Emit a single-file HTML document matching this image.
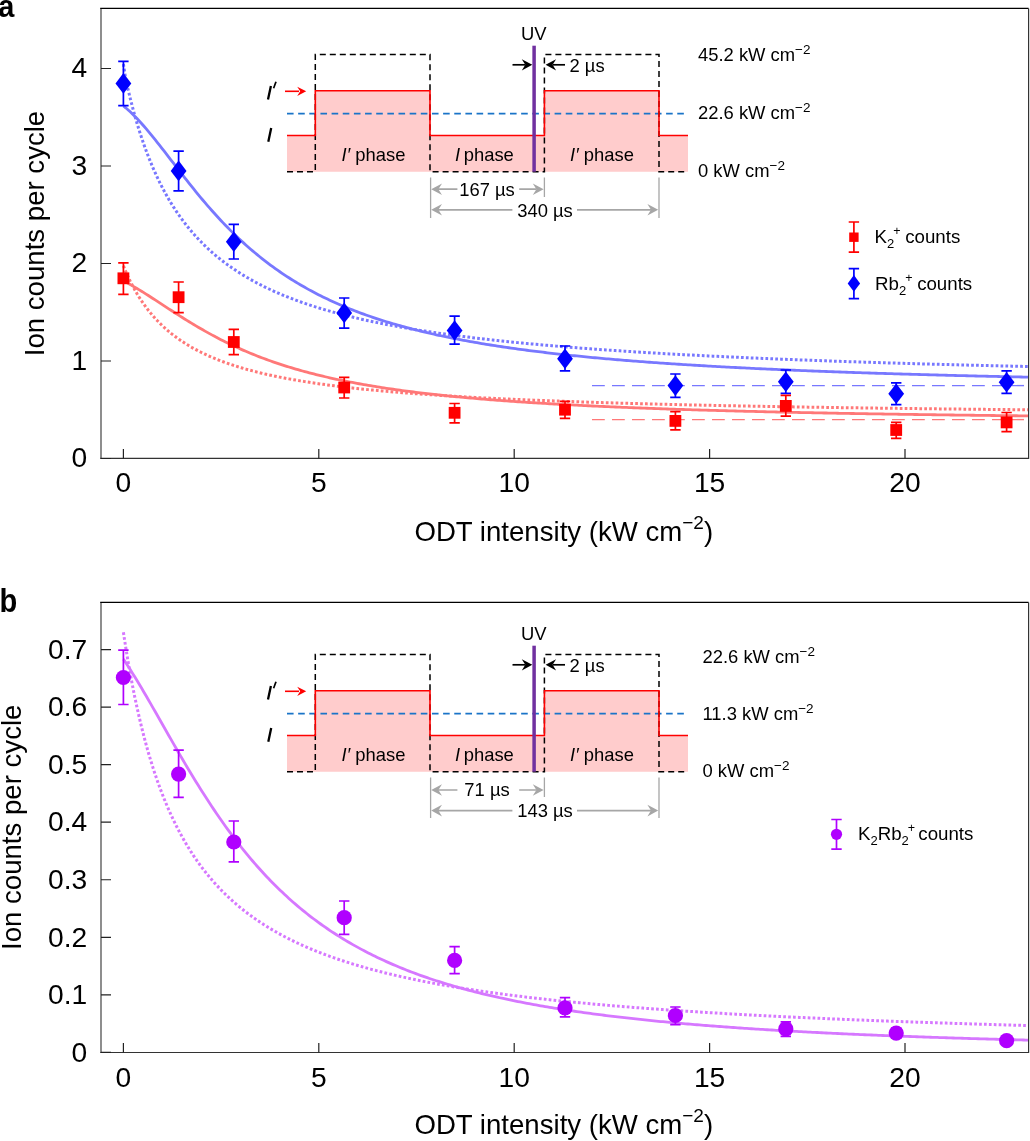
<!DOCTYPE html>
<html><head><meta charset="utf-8"><style>
html,body{margin:0;padding:0;background:#fff;overflow:hidden;}
svg{display:block;will-change:transform;}
text{font-family:"Liberation Sans",sans-serif;fill:#000;}
</style></head><body>
<svg width="1030" height="1141" viewBox="0 0 1030 1141">
<rect width="1030" height="1141" fill="#fff"/>
<text transform="translate(-1.7,17.1) scale(0.95,1)" font-size="30.5" font-weight="bold" font-family="Liberation Sans, sans-serif">a</text>
<text transform="translate(-0.4,611.5) scale(0.88,1)" font-size="33" font-weight="bold" font-family="Liberation Sans, sans-serif">b</text>
<path d="M101,8.45V458.4" stroke="#7a7a7a" stroke-width="1.7"/>
<path d="M100.2,8.399999999999999H1028.6" stroke="#000" stroke-width="1.2" fill="none"/>
<path d="M1028.6,8.45V458.4H100.2" stroke="#333" stroke-width="1.2" fill="none"/>
<path d="M101,458.50H111M101,361.00H111M101,263.50H111M101,166.00H111M101,68.50H111M123.40,449V458.5M318.80,449V458.5M514.20,449V458.5M709.60,449V458.5M905.00,449V458.5" stroke="#222" stroke-width="1.2"/>
<text x="87.3" y="467.20" text-anchor="end" font-size="28.2" font-family="Liberation Sans, sans-serif">0</text>
<text x="87.3" y="369.70" text-anchor="end" font-size="28.2" font-family="Liberation Sans, sans-serif">1</text>
<text x="87.3" y="272.20" text-anchor="end" font-size="28.2" font-family="Liberation Sans, sans-serif">2</text>
<text x="87.3" y="174.70" text-anchor="end" font-size="28.2" font-family="Liberation Sans, sans-serif">3</text>
<text x="87.3" y="77.20" text-anchor="end" font-size="28.2" font-family="Liberation Sans, sans-serif">4</text>
<text x="123.40" y="491.8" text-anchor="middle" font-size="28.2" font-family="Liberation Sans, sans-serif">0</text>
<text x="318.80" y="491.8" text-anchor="middle" font-size="28.2" font-family="Liberation Sans, sans-serif">5</text>
<text x="514.20" y="491.8" text-anchor="middle" font-size="28.2" font-family="Liberation Sans, sans-serif">10</text>
<text x="709.60" y="491.8" text-anchor="middle" font-size="28.2" font-family="Liberation Sans, sans-serif">15</text>
<text x="905.00" y="491.8" text-anchor="middle" font-size="28.2" font-family="Liberation Sans, sans-serif">20</text>
<text transform="translate(43.6,233.5) rotate(-90)" text-anchor="middle" font-size="27.6" font-family="Liberation Sans, sans-serif">Ion counts per cycle</text>
<text x="563.8" y="541.3" text-anchor="middle" font-size="27.6" font-family="Liberation Sans, sans-serif">ODT intensity (kW cm<tspan dy="-12.5" font-size="19">−2</tspan><tspan dy="12.5">)</tspan></text>
<path d="M592,385.6H1024" stroke="#7878ff" stroke-width="1.4" stroke-dasharray="12.8 7.2"/>
<path d="M592,419.6H1024" stroke="#ff7878" stroke-width="1.4" stroke-dasharray="12.8 7.2"/>
<path d="M123.40,64.00 L125.67,78.77 L127.93,88.81 L130.20,98.23 L132.47,107.06 L134.74,115.38 L137.00,123.21 L139.27,130.61 L141.54,137.61 L143.80,144.23 L146.07,150.52 L148.34,156.48 L150.61,162.16 L152.87,167.57 L155.14,172.72 L157.41,177.63 L159.67,182.33 L161.94,186.82 L164.21,191.12 L166.48,195.24 L168.74,199.19 L171.01,202.99 L173.28,206.63 L175.54,210.13 L177.81,213.50 L180.08,216.75 L182.35,219.87 L184.61,222.89 L186.88,225.80 L189.15,228.60 L191.42,231.32 L193.68,233.94 L195.95,236.47 L198.22,238.92 L200.48,241.30 L202.75,243.60 L205.02,245.83 L207.29,247.99 L209.55,250.09 L211.82,252.12 L214.09,254.10 L216.35,256.02 L218.62,257.88 L220.89,259.70 L223.16,261.46 L225.42,263.18 L227.69,264.85 L229.96,266.47 L232.22,268.05 L234.49,269.60 L236.76,271.10 L239.03,272.57 L241.29,274.00 L243.56,275.39 L245.83,276.75 L248.09,278.08 L250.36,279.38 L252.63,280.64 L254.90,281.88 L257.16,283.09 L259.43,284.27 L261.70,285.43 L263.96,286.56 L266.23,287.66 L268.50,288.75 L270.77,289.80 L273.03,290.84 L275.30,291.86 L277.57,292.85 L279.83,293.82 L282.10,294.78 L284.37,295.71 L286.64,296.63 L288.90,297.53 L291.17,298.41 L293.44,299.27 L295.70,300.12 L297.97,300.95 L300.24,301.77 L302.51,302.57 L304.77,303.35 L307.04,304.12 L309.31,304.88 L311.57,305.62 L313.84,306.36 L316.11,307.07 L318.38,307.78 L320.64,308.47 L322.91,309.15 L325.18,309.82 L327.45,310.48 L329.71,311.13 L331.98,311.77 L334.25,312.39 L336.51,313.01 L338.78,313.62 L341.05,314.21 L343.32,314.80 L345.58,315.38 L347.85,315.95 L350.12,316.51 L352.38,317.06 L354.65,317.60 L356.92,318.13 L359.19,318.66 L361.45,319.18 L363.72,319.69 L365.99,320.19 L368.25,320.69 L370.52,321.18 L372.79,321.66 L375.06,322.14 L377.32,322.60 L379.59,323.07 L381.86,323.52 L384.12,323.97 L386.39,324.41 L388.66,324.85 L390.93,325.28 L393.19,325.71 L395.46,326.12 L397.73,326.54 L399.99,326.95 L402.26,327.35 L404.53,327.75 L406.80,328.14 L409.06,328.52 L411.33,328.91 L413.60,329.28 L415.86,329.66 L418.13,330.02 L420.40,330.39 L422.67,330.75 L424.93,331.10 L427.20,331.45 L429.47,331.80 L431.73,332.14 L434.00,332.48 L436.27,332.81 L438.54,333.14 L440.80,333.46 L443.07,333.78 L445.34,334.10 L447.61,334.42 L449.87,334.73 L452.14,335.03 L454.41,335.34 L456.67,335.64 L458.94,335.93 L461.21,336.23 L463.48,336.52 L465.74,336.80 L468.01,337.09 L470.28,337.37 L472.54,337.64 L474.81,337.92 L477.08,338.19 L479.35,338.46 L481.61,338.72 L483.88,338.99 L486.15,339.25 L488.41,339.50 L490.68,339.76 L492.95,340.01 L495.22,340.26 L497.48,340.51 L499.75,340.75 L502.02,340.99 L504.28,341.23 L506.55,341.47 L508.82,341.70 L511.09,341.93 L513.35,342.16 L515.62,342.39 L517.89,342.62 L520.15,342.84 L522.42,343.06 L524.69,343.28 L526.96,343.50 L529.22,343.71 L531.49,343.92 L533.76,344.13 L536.02,344.34 L538.29,344.55 L540.56,344.75 L542.83,344.96 L545.09,345.16 L547.36,345.36 L549.63,345.55 L551.89,345.75 L554.16,345.94 L556.43,346.13 L558.70,346.32 L560.96,346.51 L563.23,346.70 L565.50,346.88 L567.76,347.07 L570.03,347.25 L572.30,347.43 L574.57,347.61 L576.83,347.78 L579.10,347.96 L581.37,348.13 L583.64,348.30 L585.90,348.47 L588.17,348.64 L590.44,348.81 L592.70,348.98 L594.97,349.14 L597.24,349.31 L599.51,349.47 L601.77,349.63 L604.04,349.79 L606.31,349.95 L608.57,350.10 L610.84,350.26 L613.11,350.41 L615.38,350.57 L617.64,350.72 L619.91,350.87 L622.18,351.02 L624.44,351.17 L626.71,351.32 L628.98,351.46 L631.25,351.61 L633.51,351.75 L635.78,351.89 L638.05,352.03 L640.31,352.17 L642.58,352.31 L644.85,352.45 L647.12,352.59 L649.38,352.72 L651.65,352.86 L653.92,352.99 L656.18,353.13 L658.45,353.26 L660.72,353.39 L662.99,353.52 L665.25,353.65 L667.52,353.78 L669.79,353.90 L672.05,354.03 L674.32,354.15 L676.59,354.28 L678.86,354.40 L681.12,354.53 L683.39,354.65 L685.66,354.77 L687.92,354.89 L690.19,355.01 L692.46,355.12 L694.73,355.24 L696.99,355.36 L699.26,355.47 L701.53,355.59 L703.79,355.70 L706.06,355.82 L708.33,355.93 L710.60,356.04 L712.86,356.15 L715.13,356.26 L717.40,356.37 L719.67,356.48 L721.93,356.59 L724.20,356.69 L726.47,356.80 L728.73,356.91 L731.00,357.01 L733.27,357.12 L735.54,357.22 L737.80,357.32 L740.07,357.42 L742.34,357.53 L744.60,357.63 L746.87,357.73 L749.14,357.83 L751.41,357.93 L753.67,358.02 L755.94,358.12 L758.21,358.22 L760.47,358.31 L762.74,358.41 L765.01,358.51 L767.28,358.60 L769.54,358.69 L771.81,358.79 L774.08,358.88 L776.34,358.97 L778.61,359.06 L780.88,359.15 L783.15,359.24 L785.41,359.33 L787.68,359.42 L789.95,359.51 L792.21,359.60 L794.48,359.69 L796.75,359.78 L799.02,359.86 L801.28,359.95 L803.55,360.03 L805.82,360.12 L808.08,360.20 L810.35,360.29 L812.62,360.37 L814.89,360.45 L817.15,360.54 L819.42,360.62 L821.69,360.70 L823.95,360.78 L826.22,360.86 L828.49,360.94 L830.76,361.02 L833.02,361.10 L835.29,361.18 L837.56,361.26 L839.83,361.33 L842.09,361.41 L844.36,361.49 L846.63,361.56 L848.89,361.64 L851.16,361.72 L853.43,361.79 L855.70,361.87 L857.96,361.94 L860.23,362.01 L862.50,362.09 L864.76,362.16 L867.03,362.23 L869.30,362.31 L871.57,362.38 L873.83,362.45 L876.10,362.52 L878.37,362.59 L880.63,362.66 L882.90,362.73 L885.17,362.80 L887.44,362.87 L889.70,362.94 L891.97,363.01 L894.24,363.07 L896.50,363.14 L898.77,363.21 L901.04,363.28 L903.31,363.34 L905.57,363.41 L907.84,363.47 L910.11,363.54 L912.37,363.60 L914.64,363.67 L916.91,363.73 L919.18,363.80 L921.44,363.86 L923.71,363.92 L925.98,363.99 L928.24,364.05 L930.51,364.11 L932.78,364.18 L935.05,364.24 L937.31,364.30 L939.58,364.36 L941.85,364.42 L944.11,364.48 L946.38,364.54 L948.65,364.60 L950.92,364.66 L953.18,364.72 L955.45,364.78 L957.72,364.84 L959.98,364.90 L962.25,364.95 L964.52,365.01 L966.79,365.07 L969.05,365.13 L971.32,365.18 L973.59,365.24 L975.86,365.30 L978.12,365.35 L980.39,365.41 L982.66,365.46 L984.92,365.52 L987.19,365.57 L989.46,365.63 L991.73,365.68 L993.99,365.74 L996.26,365.79 L998.53,365.85 L1000.79,365.90 L1003.06,365.95 L1005.33,366.00 L1007.60,366.06 L1009.86,366.11 L1012.13,366.16 L1014.40,366.21 L1016.66,366.27 L1018.93,366.32 L1021.20,366.37 L1023.47,366.42 L1025.73,366.47 L1028.00,366.52" stroke="#7878ff" stroke-width="3" fill="none" stroke-dasharray="2.7 2.2"/>
<path d="M123.40,265.92 L125.67,271.34 L127.93,276.40 L130.20,281.13 L132.47,285.57 L134.74,289.74 L137.00,293.66 L139.27,297.37 L141.54,300.86 L143.80,304.17 L146.07,307.30 L148.34,310.27 L150.61,313.10 L152.87,315.78 L155.14,318.34 L157.41,320.78 L159.67,323.10 L161.94,325.32 L164.21,327.45 L166.48,329.48 L168.74,331.43 L171.01,333.29 L173.28,335.08 L175.54,336.80 L177.81,338.46 L180.08,340.05 L182.35,341.58 L184.61,343.05 L186.88,344.47 L189.15,345.84 L191.42,347.17 L193.68,348.44 L195.95,349.67 L198.22,350.87 L200.48,352.02 L202.75,353.14 L205.02,354.22 L207.29,355.26 L209.55,356.28 L211.82,357.26 L214.09,358.21 L216.35,359.14 L218.62,360.04 L220.89,360.91 L223.16,361.76 L225.42,362.58 L227.69,363.38 L229.96,364.16 L232.22,364.92 L234.49,365.66 L236.76,366.37 L239.03,367.07 L241.29,367.76 L243.56,368.42 L245.83,369.07 L248.09,369.70 L250.36,370.32 L252.63,370.92 L254.90,371.51 L257.16,372.08 L259.43,372.64 L261.70,373.19 L263.96,373.72 L266.23,374.25 L268.50,374.76 L270.77,375.26 L273.03,375.75 L275.30,376.22 L277.57,376.69 L279.83,377.15 L282.10,377.60 L284.37,378.04 L286.64,378.47 L288.90,378.89 L291.17,379.30 L293.44,379.70 L295.70,380.10 L297.97,380.49 L300.24,380.87 L302.51,381.24 L304.77,381.61 L307.04,381.97 L309.31,382.32 L311.57,382.67 L313.84,383.01 L316.11,383.34 L318.38,383.67 L320.64,383.99 L322.91,384.31 L325.18,384.62 L327.45,384.92 L329.71,385.22 L331.98,385.52 L334.25,385.80 L336.51,386.09 L338.78,386.37 L341.05,386.64 L343.32,386.91 L345.58,387.18 L347.85,387.44 L350.12,387.70 L352.38,387.95 L354.65,388.20 L356.92,388.45 L359.19,388.69 L361.45,388.93 L363.72,389.16 L365.99,389.39 L368.25,389.62 L370.52,389.84 L372.79,390.06 L375.06,390.28 L377.32,390.49 L379.59,390.70 L381.86,390.91 L384.12,391.12 L386.39,391.32 L388.66,391.52 L390.93,391.71 L393.19,391.90 L395.46,392.09 L397.73,392.28 L399.99,392.47 L402.26,392.65 L404.53,392.83 L406.80,393.01 L409.06,393.18 L411.33,393.36 L413.60,393.53 L415.86,393.70 L418.13,393.86 L420.40,394.03 L422.67,394.19 L424.93,394.35 L427.20,394.50 L429.47,394.66 L431.73,394.81 L434.00,394.97 L436.27,395.12 L438.54,395.26 L440.80,395.41 L443.07,395.55 L445.34,395.70 L447.61,395.84 L449.87,395.98 L452.14,396.11 L454.41,396.25 L456.67,396.38 L458.94,396.52 L461.21,396.65 L463.48,396.78 L465.74,396.91 L468.01,397.03 L470.28,397.16 L472.54,397.28 L474.81,397.40 L477.08,397.53 L479.35,397.65 L481.61,397.76 L483.88,397.88 L486.15,398.00 L488.41,398.11 L490.68,398.22 L492.95,398.34 L495.22,398.45 L497.48,398.56 L499.75,398.66 L502.02,398.77 L504.28,398.88 L506.55,398.98 L508.82,399.09 L511.09,399.19 L513.35,399.29 L515.62,399.39 L517.89,399.49 L520.15,399.59 L522.42,399.69 L524.69,399.78 L526.96,399.88 L529.22,399.97 L531.49,400.07 L533.76,400.16 L536.02,400.25 L538.29,400.34 L540.56,400.43 L542.83,400.52 L545.09,400.61 L547.36,400.70 L549.63,400.79 L551.89,400.87 L554.16,400.96 L556.43,401.04 L558.70,401.12 L560.96,401.21 L563.23,401.29 L565.50,401.37 L567.76,401.45 L570.03,401.53 L572.30,401.61 L574.57,401.69 L576.83,401.76 L579.10,401.84 L581.37,401.92 L583.64,401.99 L585.90,402.07 L588.17,402.14 L590.44,402.21 L592.70,402.29 L594.97,402.36 L597.24,402.43 L599.51,402.50 L601.77,402.57 L604.04,402.64 L606.31,402.71 L608.57,402.78 L610.84,402.85 L613.11,402.91 L615.38,402.98 L617.64,403.05 L619.91,403.11 L622.18,403.18 L624.44,403.24 L626.71,403.31 L628.98,403.37 L631.25,403.43 L633.51,403.49 L635.78,403.56 L638.05,403.62 L640.31,403.68 L642.58,403.74 L644.85,403.80 L647.12,403.86 L649.38,403.92 L651.65,403.98 L653.92,404.03 L656.18,404.09 L658.45,404.15 L660.72,404.20 L662.99,404.26 L665.25,404.32 L667.52,404.37 L669.79,404.43 L672.05,404.48 L674.32,404.54 L676.59,404.59 L678.86,404.64 L681.12,404.69 L683.39,404.75 L685.66,404.80 L687.92,404.85 L690.19,404.90 L692.46,404.95 L694.73,405.00 L696.99,405.05 L699.26,405.10 L701.53,405.15 L703.79,405.20 L706.06,405.25 L708.33,405.30 L710.60,405.35 L712.86,405.39 L715.13,405.44 L717.40,405.49 L719.67,405.54 L721.93,405.58 L724.20,405.63 L726.47,405.67 L728.73,405.72 L731.00,405.76 L733.27,405.81 L735.54,405.85 L737.80,405.90 L740.07,405.94 L742.34,405.98 L744.60,406.03 L746.87,406.07 L749.14,406.11 L751.41,406.16 L753.67,406.20 L755.94,406.24 L758.21,406.28 L760.47,406.32 L762.74,406.36 L765.01,406.40 L767.28,406.44 L769.54,406.48 L771.81,406.52 L774.08,406.56 L776.34,406.60 L778.61,406.64 L780.88,406.68 L783.15,406.72 L785.41,406.76 L787.68,406.80 L789.95,406.83 L792.21,406.87 L794.48,406.91 L796.75,406.94 L799.02,406.98 L801.28,407.02 L803.55,407.05 L805.82,407.09 L808.08,407.13 L810.35,407.16 L812.62,407.20 L814.89,407.23 L817.15,407.27 L819.42,407.30 L821.69,407.34 L823.95,407.37 L826.22,407.41 L828.49,407.44 L830.76,407.47 L833.02,407.51 L835.29,407.54 L837.56,407.57 L839.83,407.61 L842.09,407.64 L844.36,407.67 L846.63,407.70 L848.89,407.74 L851.16,407.77 L853.43,407.80 L855.70,407.83 L857.96,407.86 L860.23,407.90 L862.50,407.93 L864.76,407.96 L867.03,407.99 L869.30,408.02 L871.57,408.05 L873.83,408.08 L876.10,408.11 L878.37,408.14 L880.63,408.17 L882.90,408.20 L885.17,408.23 L887.44,408.26 L889.70,408.29 L891.97,408.31 L894.24,408.34 L896.50,408.37 L898.77,408.40 L901.04,408.43 L903.31,408.46 L905.57,408.48 L907.84,408.51 L910.11,408.54 L912.37,408.57 L914.64,408.59 L916.91,408.62 L919.18,408.65 L921.44,408.67 L923.71,408.70 L925.98,408.73 L928.24,408.75 L930.51,408.78 L932.78,408.81 L935.05,408.83 L937.31,408.86 L939.58,408.88 L941.85,408.91 L944.11,408.93 L946.38,408.96 L948.65,408.99 L950.92,409.01 L953.18,409.04 L955.45,409.06 L957.72,409.08 L959.98,409.11 L962.25,409.13 L964.52,409.16 L966.79,409.18 L969.05,409.21 L971.32,409.23 L973.59,409.25 L975.86,409.28 L978.12,409.30 L980.39,409.32 L982.66,409.35 L984.92,409.37 L987.19,409.39 L989.46,409.42 L991.73,409.44 L993.99,409.46 L996.26,409.48 L998.53,409.51 L1000.79,409.53 L1003.06,409.55 L1005.33,409.57 L1007.60,409.60 L1009.86,409.62 L1012.13,409.64 L1014.40,409.66 L1016.66,409.68 L1018.93,409.70 L1021.20,409.73 L1023.47,409.75 L1025.73,409.77 L1028.00,409.79" stroke="#ff7878" stroke-width="3" fill="none" stroke-dasharray="2.7 2.2"/>
<path d="M123.40,105.99 L125.67,107.81 L127.93,109.75 L130.20,111.80 L132.47,113.95 L134.74,116.20 L137.00,118.53 L139.27,120.95 L141.54,123.45 L143.80,126.02 L146.07,128.64 L148.34,131.33 L150.61,134.06 L152.87,136.84 L155.14,139.66 L157.41,142.51 L159.67,145.39 L161.94,148.29 L164.21,151.21 L166.48,154.14 L168.74,157.08 L171.01,160.02 L173.28,162.97 L175.54,165.91 L177.81,168.85 L180.08,171.77 L182.35,174.69 L184.61,177.59 L186.88,180.47 L189.15,183.33 L191.42,186.18 L193.68,188.99 L195.95,191.78 L198.22,194.55 L200.48,197.29 L202.75,199.99 L205.02,202.67 L207.29,205.31 L209.55,207.92 L211.82,210.50 L214.09,213.05 L216.35,215.56 L218.62,218.03 L220.89,220.47 L223.16,222.87 L225.42,225.24 L227.69,227.57 L229.96,229.87 L232.22,232.13 L234.49,234.36 L236.76,236.54 L239.03,238.70 L241.29,240.82 L243.56,242.90 L245.83,244.95 L248.09,246.96 L250.36,248.94 L252.63,250.89 L254.90,252.80 L257.16,254.68 L259.43,256.53 L261.70,258.35 L263.96,260.13 L266.23,261.88 L268.50,263.60 L270.77,265.29 L273.03,266.95 L275.30,268.59 L277.57,270.19 L279.83,271.76 L282.10,273.31 L284.37,274.83 L286.64,276.32 L288.90,277.79 L291.17,279.23 L293.44,280.64 L295.70,282.03 L297.97,283.39 L300.24,284.73 L302.51,286.05 L304.77,287.34 L307.04,288.61 L309.31,289.86 L311.57,291.09 L313.84,292.29 L316.11,293.48 L318.38,294.64 L320.64,295.78 L322.91,296.91 L325.18,298.01 L327.45,299.09 L329.71,300.16 L331.98,301.21 L334.25,302.24 L336.51,303.25 L338.78,304.24 L341.05,305.22 L343.32,306.18 L345.58,307.13 L347.85,308.06 L350.12,308.97 L352.38,309.87 L354.65,310.75 L356.92,311.62 L359.19,312.48 L361.45,313.32 L363.72,314.15 L365.99,314.96 L368.25,315.76 L370.52,316.55 L372.79,317.32 L375.06,318.08 L377.32,318.83 L379.59,319.57 L381.86,320.30 L384.12,321.01 L386.39,321.72 L388.66,322.41 L390.93,323.09 L393.19,323.76 L395.46,324.42 L397.73,325.08 L399.99,325.72 L402.26,326.35 L404.53,326.97 L406.80,327.58 L409.06,328.18 L411.33,328.78 L413.60,329.36 L415.86,329.94 L418.13,330.51 L420.40,331.07 L422.67,331.62 L424.93,332.16 L427.20,332.69 L429.47,333.22 L431.73,333.74 L434.00,334.25 L436.27,334.76 L438.54,335.26 L440.80,335.75 L443.07,336.23 L445.34,336.71 L447.61,337.18 L449.87,337.64 L452.14,338.10 L454.41,338.55 L456.67,339.00 L458.94,339.44 L461.21,339.87 L463.48,340.29 L465.74,340.72 L468.01,341.13 L470.28,341.54 L472.54,341.95 L474.81,342.34 L477.08,342.74 L479.35,343.13 L481.61,343.51 L483.88,343.89 L486.15,344.26 L488.41,344.63 L490.68,345.00 L492.95,345.36 L495.22,345.71 L497.48,346.06 L499.75,346.41 L502.02,346.75 L504.28,347.09 L506.55,347.42 L508.82,347.75 L511.09,348.07 L513.35,348.39 L515.62,348.71 L517.89,349.02 L520.15,349.33 L522.42,349.64 L524.69,349.94 L526.96,350.24 L529.22,350.53 L531.49,350.82 L533.76,351.11 L536.02,351.39 L538.29,351.67 L540.56,351.95 L542.83,352.23 L545.09,352.50 L547.36,352.77 L549.63,353.03 L551.89,353.29 L554.16,353.55 L556.43,353.81 L558.70,354.06 L560.96,354.31 L563.23,354.56 L565.50,354.80 L567.76,355.04 L570.03,355.28 L572.30,355.52 L574.57,355.75 L576.83,355.98 L579.10,356.21 L581.37,356.44 L583.64,356.66 L585.90,356.88 L588.17,357.10 L590.44,357.32 L592.70,357.53 L594.97,357.75 L597.24,357.96 L599.51,358.16 L601.77,358.37 L604.04,358.57 L606.31,358.77 L608.57,358.97 L610.84,359.17 L613.11,359.36 L615.38,359.56 L617.64,359.75 L619.91,359.94 L622.18,360.12 L624.44,360.31 L626.71,360.49 L628.98,360.67 L631.25,360.85 L633.51,361.03 L635.78,361.21 L638.05,361.38 L640.31,361.55 L642.58,361.72 L644.85,361.89 L647.12,362.06 L649.38,362.23 L651.65,362.39 L653.92,362.55 L656.18,362.72 L658.45,362.88 L660.72,363.03 L662.99,363.19 L665.25,363.35 L667.52,363.50 L669.79,363.65 L672.05,363.80 L674.32,363.95 L676.59,364.10 L678.86,364.25 L681.12,364.39 L683.39,364.54 L685.66,364.68 L687.92,364.82 L690.19,364.96 L692.46,365.10 L694.73,365.24 L696.99,365.37 L699.26,365.51 L701.53,365.64 L703.79,365.77 L706.06,365.91 L708.33,366.04 L710.60,366.16 L712.86,366.29 L715.13,366.42 L717.40,366.55 L719.67,366.67 L721.93,366.79 L724.20,366.92 L726.47,367.04 L728.73,367.16 L731.00,367.28 L733.27,367.40 L735.54,367.51 L737.80,367.63 L740.07,367.75 L742.34,367.86 L744.60,367.97 L746.87,368.09 L749.14,368.20 L751.41,368.31 L753.67,368.42 L755.94,368.53 L758.21,368.63 L760.47,368.74 L762.74,368.85 L765.01,368.95 L767.28,369.06 L769.54,369.16 L771.81,369.26 L774.08,369.37 L776.34,369.47 L778.61,369.57 L780.88,369.67 L783.15,369.77 L785.41,369.86 L787.68,369.96 L789.95,370.06 L792.21,370.15 L794.48,370.25 L796.75,370.34 L799.02,370.44 L801.28,370.53 L803.55,370.62 L805.82,370.71 L808.08,370.80 L810.35,370.89 L812.62,370.98 L814.89,371.07 L817.15,371.16 L819.42,371.25 L821.69,371.33 L823.95,371.42 L826.22,371.50 L828.49,371.59 L830.76,371.67 L833.02,371.76 L835.29,371.84 L837.56,371.92 L839.83,372.00 L842.09,372.08 L844.36,372.16 L846.63,372.24 L848.89,372.32 L851.16,372.40 L853.43,372.48 L855.70,372.56 L857.96,372.63 L860.23,372.71 L862.50,372.79 L864.76,372.86 L867.03,372.94 L869.30,373.01 L871.57,373.08 L873.83,373.16 L876.10,373.23 L878.37,373.30 L880.63,373.37 L882.90,373.44 L885.17,373.52 L887.44,373.59 L889.70,373.66 L891.97,373.72 L894.24,373.79 L896.50,373.86 L898.77,373.93 L901.04,374.00 L903.31,374.06 L905.57,374.13 L907.84,374.20 L910.11,374.26 L912.37,374.33 L914.64,374.39 L916.91,374.46 L919.18,374.52 L921.44,374.58 L923.71,374.65 L925.98,374.71 L928.24,374.77 L930.51,374.83 L932.78,374.89 L935.05,374.95 L937.31,375.02 L939.58,375.08 L941.85,375.14 L944.11,375.19 L946.38,375.25 L948.65,375.31 L950.92,375.37 L953.18,375.43 L955.45,375.49 L957.72,375.54 L959.98,375.60 L962.25,375.66 L964.52,375.71 L966.79,375.77 L969.05,375.82 L971.32,375.88 L973.59,375.93 L975.86,375.99 L978.12,376.04 L980.39,376.10 L982.66,376.15 L984.92,376.20 L987.19,376.25 L989.46,376.31 L991.73,376.36 L993.99,376.41 L996.26,376.46 L998.53,376.51 L1000.79,376.56 L1003.06,376.61 L1005.33,376.66 L1007.60,376.71 L1009.86,376.76 L1012.13,376.81 L1014.40,376.86 L1016.66,376.91 L1018.93,376.96 L1021.20,377.01 L1023.47,377.06 L1025.73,377.10 L1028.00,377.15" stroke="#7878ff" stroke-width="2.8" fill="none"/>
<path d="M123.40,280.96 L125.67,282.13 L127.93,283.33 L130.20,284.58 L132.47,285.86 L134.74,287.17 L137.00,288.51 L139.27,289.87 L141.54,291.26 L143.80,292.67 L146.07,294.09 L148.34,295.54 L150.61,296.99 L152.87,298.45 L155.14,299.93 L157.41,301.40 L159.67,302.89 L161.94,304.37 L164.21,305.85 L166.48,307.34 L168.74,308.81 L171.01,310.29 L173.28,311.76 L175.54,313.22 L177.81,314.67 L180.08,316.11 L182.35,317.54 L184.61,318.96 L186.88,320.37 L189.15,321.77 L191.42,323.15 L193.68,324.51 L195.95,325.87 L198.22,327.20 L200.48,328.52 L202.75,329.83 L205.02,331.11 L207.29,332.38 L209.55,333.64 L211.82,334.87 L214.09,336.09 L216.35,337.29 L218.62,338.48 L220.89,339.64 L223.16,340.79 L225.42,341.92 L227.69,343.04 L229.96,344.13 L232.22,345.21 L234.49,346.27 L236.76,347.31 L239.03,348.34 L241.29,349.35 L243.56,350.35 L245.83,351.32 L248.09,352.28 L250.36,353.23 L252.63,354.15 L254.90,355.07 L257.16,355.96 L259.43,356.85 L261.70,357.71 L263.96,358.56 L266.23,359.40 L268.50,360.22 L270.77,361.03 L273.03,361.82 L275.30,362.60 L277.57,363.37 L279.83,364.12 L282.10,364.87 L284.37,365.59 L286.64,366.31 L288.90,367.01 L291.17,367.70 L293.44,368.38 L295.70,369.05 L297.97,369.70 L300.24,370.34 L302.51,370.98 L304.77,371.60 L307.04,372.21 L309.31,372.81 L311.57,373.40 L313.84,373.98 L316.11,374.55 L318.38,375.11 L320.64,375.66 L322.91,376.21 L325.18,376.74 L327.45,377.26 L329.71,377.78 L331.98,378.28 L334.25,378.78 L336.51,379.27 L338.78,379.75 L341.05,380.23 L343.32,380.69 L345.58,381.15 L347.85,381.60 L350.12,382.05 L352.38,382.48 L354.65,382.91 L356.92,383.34 L359.19,383.75 L361.45,384.16 L363.72,384.56 L365.99,384.96 L368.25,385.35 L370.52,385.73 L372.79,386.11 L375.06,386.48 L377.32,386.85 L379.59,387.21 L381.86,387.56 L384.12,387.91 L386.39,388.26 L388.66,388.60 L390.93,388.93 L393.19,389.26 L395.46,389.58 L397.73,389.90 L399.99,390.22 L402.26,390.52 L404.53,390.83 L406.80,391.13 L409.06,391.43 L411.33,391.72 L413.60,392.00 L415.86,392.29 L418.13,392.57 L420.40,392.84 L422.67,393.11 L424.93,393.38 L427.20,393.64 L429.47,393.90 L431.73,394.16 L434.00,394.41 L436.27,394.66 L438.54,394.91 L440.80,395.15 L443.07,395.39 L445.34,395.62 L447.61,395.86 L449.87,396.08 L452.14,396.31 L454.41,396.53 L456.67,396.75 L458.94,396.97 L461.21,397.19 L463.48,397.40 L465.74,397.60 L468.01,397.81 L470.28,398.01 L472.54,398.21 L474.81,398.41 L477.08,398.61 L479.35,398.80 L481.61,398.99 L483.88,399.18 L486.15,399.36 L488.41,399.55 L490.68,399.73 L492.95,399.91 L495.22,400.08 L497.48,400.26 L499.75,400.43 L502.02,400.60 L504.28,400.77 L506.55,400.93 L508.82,401.10 L511.09,401.26 L513.35,401.42 L515.62,401.57 L517.89,401.73 L520.15,401.88 L522.42,402.04 L524.69,402.19 L526.96,402.34 L529.22,402.48 L531.49,402.63 L533.76,402.77 L536.02,402.91 L538.29,403.05 L540.56,403.19 L542.83,403.33 L545.09,403.46 L547.36,403.60 L549.63,403.73 L551.89,403.86 L554.16,403.99 L556.43,404.12 L558.70,404.24 L560.96,404.37 L563.23,404.49 L565.50,404.62 L567.76,404.74 L570.03,404.86 L572.30,404.97 L574.57,405.09 L576.83,405.21 L579.10,405.32 L581.37,405.44 L583.64,405.55 L585.90,405.66 L588.17,405.77 L590.44,405.88 L592.70,405.98 L594.97,406.09 L597.24,406.20 L599.51,406.30 L601.77,406.40 L604.04,406.50 L606.31,406.61 L608.57,406.71 L610.84,406.80 L613.11,406.90 L615.38,407.00 L617.64,407.10 L619.91,407.19 L622.18,407.28 L624.44,407.38 L626.71,407.47 L628.98,407.56 L631.25,407.65 L633.51,407.74 L635.78,407.83 L638.05,407.92 L640.31,408.00 L642.58,408.09 L644.85,408.17 L647.12,408.26 L649.38,408.34 L651.65,408.42 L653.92,408.51 L656.18,408.59 L658.45,408.67 L660.72,408.75 L662.99,408.83 L665.25,408.90 L667.52,408.98 L669.79,409.06 L672.05,409.13 L674.32,409.21 L676.59,409.28 L678.86,409.36 L681.12,409.43 L683.39,409.50 L685.66,409.58 L687.92,409.65 L690.19,409.72 L692.46,409.79 L694.73,409.86 L696.99,409.93 L699.26,409.99 L701.53,410.06 L703.79,410.13 L706.06,410.20 L708.33,410.26 L710.60,410.33 L712.86,410.39 L715.13,410.45 L717.40,410.52 L719.67,410.58 L721.93,410.64 L724.20,410.71 L726.47,410.77 L728.73,410.83 L731.00,410.89 L733.27,410.95 L735.54,411.01 L737.80,411.07 L740.07,411.12 L742.34,411.18 L744.60,411.24 L746.87,411.30 L749.14,411.35 L751.41,411.41 L753.67,411.46 L755.94,411.52 L758.21,411.57 L760.47,411.63 L762.74,411.68 L765.01,411.73 L767.28,411.79 L769.54,411.84 L771.81,411.89 L774.08,411.94 L776.34,411.99 L778.61,412.05 L780.88,412.10 L783.15,412.15 L785.41,412.20 L787.68,412.24 L789.95,412.29 L792.21,412.34 L794.48,412.39 L796.75,412.44 L799.02,412.48 L801.28,412.53 L803.55,412.58 L805.82,412.62 L808.08,412.67 L810.35,412.72 L812.62,412.76 L814.89,412.81 L817.15,412.85 L819.42,412.89 L821.69,412.94 L823.95,412.98 L826.22,413.02 L828.49,413.07 L830.76,413.11 L833.02,413.15 L835.29,413.19 L837.56,413.24 L839.83,413.28 L842.09,413.32 L844.36,413.36 L846.63,413.40 L848.89,413.44 L851.16,413.48 L853.43,413.52 L855.70,413.56 L857.96,413.60 L860.23,413.64 L862.50,413.67 L864.76,413.71 L867.03,413.75 L869.30,413.79 L871.57,413.83 L873.83,413.86 L876.10,413.90 L878.37,413.94 L880.63,413.97 L882.90,414.01 L885.17,414.04 L887.44,414.08 L889.70,414.12 L891.97,414.15 L894.24,414.19 L896.50,414.22 L898.77,414.25 L901.04,414.29 L903.31,414.32 L905.57,414.36 L907.84,414.39 L910.11,414.42 L912.37,414.46 L914.64,414.49 L916.91,414.52 L919.18,414.55 L921.44,414.59 L923.71,414.62 L925.98,414.65 L928.24,414.68 L930.51,414.71 L932.78,414.74 L935.05,414.77 L937.31,414.81 L939.58,414.84 L941.85,414.87 L944.11,414.90 L946.38,414.93 L948.65,414.96 L950.92,414.99 L953.18,415.01 L955.45,415.04 L957.72,415.07 L959.98,415.10 L962.25,415.13 L964.52,415.16 L966.79,415.19 L969.05,415.22 L971.32,415.24 L973.59,415.27 L975.86,415.30 L978.12,415.33 L980.39,415.35 L982.66,415.38 L984.92,415.41 L987.19,415.43 L989.46,415.46 L991.73,415.49 L993.99,415.51 L996.26,415.54 L998.53,415.57 L1000.79,415.59 L1003.06,415.62 L1005.33,415.64 L1007.60,415.67 L1009.86,415.69 L1012.13,415.72 L1014.40,415.74 L1016.66,415.77 L1018.93,415.79 L1021.20,415.82 L1023.47,415.84 L1025.73,415.86 L1028.00,415.89" stroke="#ff7878" stroke-width="2.8" fill="none"/>
<path d="M118.20,61.30H128.60M123.40,61.30V105.70M118.20,105.70H128.60" stroke="#0000ff" stroke-width="1.7" fill="none"/>
<path d="M123.40,73.10L131.30,83.40L123.40,93.70L115.50,83.40Z" fill="#0000ff"/>
<path d="M173.40,151.10H183.80M178.60,151.10V190.90M173.40,190.90H183.80" stroke="#0000ff" stroke-width="1.7" fill="none"/>
<path d="M178.60,160.60L186.50,170.90L178.60,181.20L170.70,170.90Z" fill="#0000ff"/>
<path d="M228.60,224.30H239.00M233.80,224.30V259.00M228.60,259.00H239.00" stroke="#0000ff" stroke-width="1.7" fill="none"/>
<path d="M233.80,231.50L241.70,241.80L233.80,252.10L225.90,241.80Z" fill="#0000ff"/>
<path d="M339.00,298.00H349.40M344.20,298.00V328.20M339.00,328.20H349.40" stroke="#0000ff" stroke-width="1.7" fill="none"/>
<path d="M344.20,302.60L352.10,312.90L344.20,323.20L336.30,312.90Z" fill="#0000ff"/>
<path d="M449.40,316.20H459.80M454.60,316.20V344.20M449.40,344.20H459.80" stroke="#0000ff" stroke-width="1.7" fill="none"/>
<path d="M454.60,320.20L462.50,330.50L454.60,340.80L446.70,330.50Z" fill="#0000ff"/>
<path d="M559.80,346.00H570.20M565.00,346.00V370.90M559.80,370.90H570.20" stroke="#0000ff" stroke-width="1.7" fill="none"/>
<path d="M565.00,348.50L572.90,358.80L565.00,369.10L557.10,358.80Z" fill="#0000ff"/>
<path d="M670.20,374.00H680.61M675.40,374.00V397.40M670.20,397.40H680.61" stroke="#0000ff" stroke-width="1.7" fill="none"/>
<path d="M675.40,375.30L683.30,385.60L675.40,395.90L667.50,385.60Z" fill="#0000ff"/>
<path d="M780.61,370.00H791.01M785.81,370.00V393.40M780.61,393.40H791.01" stroke="#0000ff" stroke-width="1.7" fill="none"/>
<path d="M785.81,371.50L793.71,381.80L785.81,392.10L777.91,381.80Z" fill="#0000ff"/>
<path d="M891.01,382.80H901.41M896.21,382.80V404.60M891.01,404.60H901.41" stroke="#0000ff" stroke-width="1.7" fill="none"/>
<path d="M896.21,383.40L904.11,393.70L896.21,404.00L888.31,393.70Z" fill="#0000ff"/>
<path d="M1001.41,370.90H1011.81M1006.61,370.90V393.40M1001.41,393.40H1011.81" stroke="#0000ff" stroke-width="1.7" fill="none"/>
<path d="M1006.61,371.90L1014.51,382.20L1006.61,392.50L998.71,382.20Z" fill="#0000ff"/>
<path d="M118.20,262.80H128.60M123.40,262.80V294.30M118.20,294.30H128.60" stroke="#ff0000" stroke-width="1.7" fill="none"/>
<rect x="117.50" y="272.40" width="11.8" height="11.8" fill="#ff0000"/>
<path d="M173.40,282.00H183.80M178.60,282.00V312.60M173.40,312.60H183.80" stroke="#ff0000" stroke-width="1.7" fill="none"/>
<rect x="172.70" y="291.30" width="11.8" height="11.8" fill="#ff0000"/>
<path d="M228.60,329.30H239.00M233.80,329.30V354.70M228.60,354.70H239.00" stroke="#ff0000" stroke-width="1.7" fill="none"/>
<rect x="227.90" y="336.10" width="11.8" height="11.8" fill="#ff0000"/>
<path d="M339.00,377.30H349.40M344.20,377.30V398.00M339.00,398.00H349.40" stroke="#ff0000" stroke-width="1.7" fill="none"/>
<rect x="338.30" y="381.60" width="11.8" height="11.8" fill="#ff0000"/>
<path d="M449.40,403.50H459.80M454.60,403.50V422.80M449.40,422.80H459.80" stroke="#ff0000" stroke-width="1.7" fill="none"/>
<rect x="448.70" y="406.90" width="11.8" height="11.8" fill="#ff0000"/>
<path d="M559.80,401.30H570.20M565.00,401.30V418.40M559.80,418.40H570.20" stroke="#ff0000" stroke-width="1.7" fill="none"/>
<rect x="559.10" y="403.80" width="11.8" height="11.8" fill="#ff0000"/>
<path d="M670.20,411.60H680.61M675.40,411.60V429.80M670.20,429.80H680.61" stroke="#ff0000" stroke-width="1.7" fill="none"/>
<rect x="669.50" y="415.00" width="11.8" height="11.8" fill="#ff0000"/>
<path d="M780.61,395.40H791.01M785.81,395.40V416.20M780.61,416.20H791.01" stroke="#ff0000" stroke-width="1.7" fill="none"/>
<rect x="779.91" y="400.00" width="11.8" height="11.8" fill="#ff0000"/>
<path d="M891.01,422.40H901.41M896.21,422.40V438.30M891.01,438.30H901.41" stroke="#ff0000" stroke-width="1.7" fill="none"/>
<rect x="890.31" y="424.10" width="11.8" height="11.8" fill="#ff0000"/>
<path d="M1001.41,412.50H1011.81M1006.61,412.50V431.70M1001.41,431.70H1011.81" stroke="#ff0000" stroke-width="1.7" fill="none"/>
<rect x="1000.71" y="416.50" width="11.8" height="11.8" fill="#ff0000"/>
<path d="M848.70,222.00H859.10M853.90,222.00V252.10M848.70,252.10H859.10" stroke="#ff0000" stroke-width="1.7" fill="none"/>
<rect x="849.20" y="232.50" width="9.4" height="9.4" fill="#ff0000"/>
<text x="874.5" y="242.7" font-size="18.7" font-family="Liberation Sans, sans-serif">K<tspan dy="5" font-size="13">2</tspan><tspan dy="-13" dx="-1" font-size="12.5">+</tspan><tspan dy="8" dx="-0.5"> counts</tspan></text>
<path d="M848.70,268.60H859.10M853.90,268.60V298.60M848.70,298.60H859.10" stroke="#0000ff" stroke-width="1.7" fill="none"/>
<path d="M853.90,275.00L860.10,283.40L853.90,291.80L847.70,283.40Z" fill="#0000ff"/>
<text x="875" y="290" font-size="18.7" font-family="Liberation Sans, sans-serif">Rb<tspan dy="5" font-size="13">2</tspan><tspan dy="-13" dx="-1" font-size="12.5">+</tspan><tspan dy="8" dx="-0.5"> counts</tspan></text>
<path d="M287,171.7V135.5H315.3V90.7H430V135.5H544.4V90.7H659V135.5H688V171.7Z" fill="#ffcccc"/>
<path d="M287,113.6H687.5" stroke="#1a74c8" stroke-width="1.6" stroke-dasharray="6.6 4.55"/>
<path d="M287,171.7H315.3V54.5H430V171.7H544.4V54.5H659V171.7H688" stroke="#000" stroke-width="1.5" fill="none" stroke-dasharray="6 4"/>
<path d="M287,135.5H315.3V90.7H430V135.5H544.4V90.7H659V135.5H688" stroke="#ff0000" stroke-width="1.6" fill="none"/>
<path d="M534.1,45.7V171.7" stroke="#7030a0" stroke-width="3.5"/>
<text x="533.7" y="40" text-anchor="middle" font-size="18.4" font-family="Liberation Sans, sans-serif">UV</text>
<path d="M512.5,64.8H525" stroke="#000" stroke-width="1.7"/><path d="M532.30,64.80L521.80,59.20L525.30,64.80L521.80,70.40Z" fill="#000"/>
<path d="M565,64.8H553" stroke="#000" stroke-width="1.7"/><path d="M545.60,64.80L556.10,59.20L552.60,64.80L556.10,70.40Z" fill="#000"/>
<text x="569.5" y="72" font-size="18.4" font-family="Liberation Sans, sans-serif">2 µs</text>
<path d="M285,91.3H299" stroke="#ff0000" stroke-width="1.6"/><path d="M306.20,91.30L297.20,86.70L300.20,91.30L297.20,95.90Z" fill="#ff0000"/>
<path d="M268,99.5L270.9,86M268.3,141.7L271.2,128.1" stroke="#000" stroke-width="2.3"/>
<path d="M273.6,88.2L276,81.8" stroke="#000" stroke-width="1.7" stroke-linecap="butt"/>
<text x="373.5" y="160.6" text-anchor="middle" font-size="18.4" font-family="Liberation Sans, sans-serif"><tspan font-style="italic">I′</tspan> phase</text>
<text x="484.4" y="160.6" text-anchor="middle" font-size="18.4" font-family="Liberation Sans, sans-serif"><tspan font-style="italic">I</tspan><tspan dx="-1.5"> phase</tspan></text>
<text x="602" y="160.6" text-anchor="middle" font-size="18.4" font-family="Liberation Sans, sans-serif"><tspan font-style="italic">I′</tspan> phase</text>
<path d="M430.6,177.5V218M544.4,177.5V197M659,177.5V218" stroke="#a6a6a6" stroke-width="1.3"/>
<path d="M438,189.2H457.4M536.4,189.2H519.2" stroke="#a6a6a6" stroke-width="1.7"/>
<path d="M431.20,189.20L442.00,183.40L438.40,189.20L442.00,195.00Z" fill="#a6a6a6"/><path d="M543.60,189.20L532.80,183.40L536.40,189.20L532.80,195.00Z" fill="#a6a6a6"/>
<path d="M438,209.8H512.4M651,209.8H577" stroke="#a6a6a6" stroke-width="1.7"/>
<path d="M431.20,209.80L442.00,204.00L438.40,209.80L442.00,215.60Z" fill="#a6a6a6"/><path d="M658.20,209.80L647.40,204.00L651.00,209.80L647.40,215.60Z" fill="#a6a6a6"/>
<text x="487" y="196" text-anchor="middle" font-size="18.4" font-family="Liberation Sans, sans-serif">167 µs</text>
<text x="545" y="216.5" text-anchor="middle" font-size="18.4" font-family="Liberation Sans, sans-serif">340 µs</text>
<text x="698" y="61" font-size="18.4" font-family="Liberation Sans, sans-serif">45.2 kW cm<tspan dy="-7.5" font-size="13.5">−2</tspan></text>
<text x="698" y="119" font-size="18.4" font-family="Liberation Sans, sans-serif">22.6 kW cm<tspan dy="-7.5" font-size="13.5">−2</tspan></text>
<text x="698" y="177.2" font-size="18.4" font-family="Liberation Sans, sans-serif">0 kW cm<tspan dy="-7.5" font-size="13.5">−2</tspan></text>
<path d="M101,602.4V1052.5" stroke="#7a7a7a" stroke-width="1.7"/>
<path d="M100.2,602.35H1028.6" stroke="#000" stroke-width="1.2" fill="none"/>
<path d="M1028.6,602.4V1052.5H100.2" stroke="#333" stroke-width="1.2" fill="none"/>
<path d="M101,1052.40H111M101,994.85H111M101,937.30H111M101,879.75H111M101,822.20H111M101,764.65H111M101,707.10H111M101,649.55H111M123.40,1043V1052.5M318.80,1043V1052.5M514.20,1043V1052.5M709.60,1043V1052.5M905.00,1043V1052.5" stroke="#222" stroke-width="1.2"/>
<text x="87.3" y="1061.60" text-anchor="end" font-size="28.2" font-family="Liberation Sans, sans-serif">0</text>
<text x="87.3" y="1004.05" text-anchor="end" font-size="28.2" font-family="Liberation Sans, sans-serif">0.1</text>
<text x="87.3" y="946.50" text-anchor="end" font-size="28.2" font-family="Liberation Sans, sans-serif">0.2</text>
<text x="87.3" y="888.95" text-anchor="end" font-size="28.2" font-family="Liberation Sans, sans-serif">0.3</text>
<text x="87.3" y="831.40" text-anchor="end" font-size="28.2" font-family="Liberation Sans, sans-serif">0.4</text>
<text x="87.3" y="773.85" text-anchor="end" font-size="28.2" font-family="Liberation Sans, sans-serif">0.5</text>
<text x="87.3" y="716.30" text-anchor="end" font-size="28.2" font-family="Liberation Sans, sans-serif">0.6</text>
<text x="87.3" y="658.75" text-anchor="end" font-size="28.2" font-family="Liberation Sans, sans-serif">0.7</text>
<text x="123.40" y="1086.5" text-anchor="middle" font-size="28.2" font-family="Liberation Sans, sans-serif">0</text>
<text x="318.80" y="1086.5" text-anchor="middle" font-size="28.2" font-family="Liberation Sans, sans-serif">5</text>
<text x="514.20" y="1086.5" text-anchor="middle" font-size="28.2" font-family="Liberation Sans, sans-serif">10</text>
<text x="709.60" y="1086.5" text-anchor="middle" font-size="28.2" font-family="Liberation Sans, sans-serif">15</text>
<text x="905.00" y="1086.5" text-anchor="middle" font-size="28.2" font-family="Liberation Sans, sans-serif">20</text>
<text transform="translate(21,827.3) rotate(-90)" text-anchor="middle" font-size="27.6" font-family="Liberation Sans, sans-serif">Ion counts per cycle</text>
<text x="563.8" y="1134.3" text-anchor="middle" font-size="27.6" font-family="Liberation Sans, sans-serif">ODT intensity (kW cm<tspan dy="-12.5" font-size="19">−2</tspan><tspan dy="12.5">)</tspan></text>
<path d="M123.40,632.28 L125.67,646.97 L127.93,660.69 L130.20,673.53 L132.47,685.56 L134.74,696.86 L137.00,707.50 L139.27,717.52 L141.54,726.99 L143.80,735.95 L146.07,744.43 L148.34,752.48 L150.61,760.12 L152.87,767.39 L155.14,774.31 L157.41,780.91 L159.67,787.20 L161.94,793.22 L164.21,798.97 L166.48,804.47 L168.74,809.74 L171.01,814.80 L173.28,819.65 L175.54,824.31 L177.81,828.79 L180.08,833.10 L182.35,837.25 L184.61,841.25 L186.88,845.10 L189.15,848.81 L191.42,852.40 L193.68,855.86 L195.95,859.21 L198.22,862.44 L200.48,865.57 L202.75,868.60 L205.02,871.54 L207.29,874.38 L209.55,877.13 L211.82,879.81 L214.09,882.40 L216.35,884.91 L218.62,887.36 L220.89,889.73 L223.16,892.04 L225.42,894.28 L227.69,896.46 L229.96,898.59 L232.22,900.65 L234.49,902.66 L236.76,904.62 L239.03,906.53 L241.29,908.39 L243.56,910.21 L245.83,911.98 L248.09,913.70 L250.36,915.39 L252.63,917.03 L254.90,918.64 L257.16,920.20 L259.43,921.73 L261.70,923.23 L263.96,924.69 L266.23,926.12 L268.50,927.52 L270.77,928.89 L273.03,930.23 L275.30,931.54 L277.57,932.82 L279.83,934.08 L282.10,935.31 L284.37,936.51 L286.64,937.69 L288.90,938.85 L291.17,939.98 L293.44,941.09 L295.70,942.18 L297.97,943.25 L300.24,944.30 L302.51,945.32 L304.77,946.33 L307.04,947.32 L309.31,948.29 L311.57,949.25 L313.84,950.18 L316.11,951.10 L318.38,952.00 L320.64,952.89 L322.91,953.76 L325.18,954.62 L327.45,955.46 L329.71,956.29 L331.98,957.10 L334.25,957.90 L336.51,958.68 L338.78,959.46 L341.05,960.22 L343.32,960.97 L345.58,961.70 L347.85,962.43 L350.12,963.14 L352.38,963.84 L354.65,964.53 L356.92,965.21 L359.19,965.88 L361.45,966.54 L363.72,967.19 L365.99,967.83 L368.25,968.46 L370.52,969.08 L372.79,969.69 L375.06,970.29 L377.32,970.88 L379.59,971.47 L381.86,972.05 L384.12,972.61 L386.39,973.17 L388.66,973.73 L390.93,974.27 L393.19,974.81 L395.46,975.34 L397.73,975.86 L399.99,976.38 L402.26,976.89 L404.53,977.39 L406.80,977.88 L409.06,978.37 L411.33,978.85 L413.60,979.33 L415.86,979.80 L418.13,980.26 L420.40,980.72 L422.67,981.17 L424.93,981.62 L427.20,982.06 L429.47,982.50 L431.73,982.93 L434.00,983.35 L436.27,983.77 L438.54,984.18 L440.80,984.59 L443.07,985.00 L445.34,985.40 L447.61,985.79 L449.87,986.18 L452.14,986.57 L454.41,986.95 L456.67,987.32 L458.94,987.70 L461.21,988.06 L463.48,988.43 L465.74,988.79 L468.01,989.14 L470.28,989.49 L472.54,989.84 L474.81,990.18 L477.08,990.52 L479.35,990.86 L481.61,991.19 L483.88,991.52 L486.15,991.85 L488.41,992.17 L490.68,992.49 L492.95,992.80 L495.22,993.11 L497.48,993.42 L499.75,993.73 L502.02,994.03 L504.28,994.33 L506.55,994.62 L508.82,994.92 L511.09,995.21 L513.35,995.49 L515.62,995.78 L517.89,996.06 L520.15,996.34 L522.42,996.61 L524.69,996.88 L526.96,997.15 L529.22,997.42 L531.49,997.69 L533.76,997.95 L536.02,998.21 L538.29,998.47 L540.56,998.72 L542.83,998.97 L545.09,999.22 L547.36,999.47 L549.63,999.72 L551.89,999.96 L554.16,1000.20 L556.43,1000.44 L558.70,1000.67 L560.96,1000.91 L563.23,1001.14 L565.50,1001.37 L567.76,1001.60 L570.03,1001.82 L572.30,1002.05 L574.57,1002.27 L576.83,1002.49 L579.10,1002.70 L581.37,1002.92 L583.64,1003.13 L585.90,1003.35 L588.17,1003.56 L590.44,1003.76 L592.70,1003.97 L594.97,1004.18 L597.24,1004.38 L599.51,1004.58 L601.77,1004.78 L604.04,1004.98 L606.31,1005.17 L608.57,1005.37 L610.84,1005.56 L613.11,1005.75 L615.38,1005.94 L617.64,1006.13 L619.91,1006.32 L622.18,1006.50 L624.44,1006.69 L626.71,1006.87 L628.98,1007.05 L631.25,1007.23 L633.51,1007.40 L635.78,1007.58 L638.05,1007.76 L640.31,1007.93 L642.58,1008.10 L644.85,1008.27 L647.12,1008.44 L649.38,1008.61 L651.65,1008.78 L653.92,1008.94 L656.18,1009.11 L658.45,1009.27 L660.72,1009.43 L662.99,1009.59 L665.25,1009.75 L667.52,1009.91 L669.79,1010.07 L672.05,1010.22 L674.32,1010.38 L676.59,1010.53 L678.86,1010.68 L681.12,1010.83 L683.39,1010.98 L685.66,1011.13 L687.92,1011.28 L690.19,1011.43 L692.46,1011.57 L694.73,1011.72 L696.99,1011.86 L699.26,1012.00 L701.53,1012.14 L703.79,1012.28 L706.06,1012.42 L708.33,1012.56 L710.60,1012.70 L712.86,1012.84 L715.13,1012.97 L717.40,1013.11 L719.67,1013.24 L721.93,1013.37 L724.20,1013.50 L726.47,1013.64 L728.73,1013.77 L731.00,1013.90 L733.27,1014.02 L735.54,1014.15 L737.80,1014.28 L740.07,1014.40 L742.34,1014.53 L744.60,1014.65 L746.87,1014.77 L749.14,1014.90 L751.41,1015.02 L753.67,1015.14 L755.94,1015.26 L758.21,1015.38 L760.47,1015.50 L762.74,1015.61 L765.01,1015.73 L767.28,1015.85 L769.54,1015.96 L771.81,1016.08 L774.08,1016.19 L776.34,1016.30 L778.61,1016.42 L780.88,1016.53 L783.15,1016.64 L785.41,1016.75 L787.68,1016.86 L789.95,1016.97 L792.21,1017.08 L794.48,1017.18 L796.75,1017.29 L799.02,1017.40 L801.28,1017.50 L803.55,1017.61 L805.82,1017.71 L808.08,1017.81 L810.35,1017.92 L812.62,1018.02 L814.89,1018.12 L817.15,1018.22 L819.42,1018.32 L821.69,1018.42 L823.95,1018.52 L826.22,1018.62 L828.49,1018.72 L830.76,1018.82 L833.02,1018.91 L835.29,1019.01 L837.56,1019.11 L839.83,1019.20 L842.09,1019.30 L844.36,1019.39 L846.63,1019.48 L848.89,1019.58 L851.16,1019.67 L853.43,1019.76 L855.70,1019.85 L857.96,1019.94 L860.23,1020.03 L862.50,1020.12 L864.76,1020.21 L867.03,1020.30 L869.30,1020.39 L871.57,1020.48 L873.83,1020.56 L876.10,1020.65 L878.37,1020.74 L880.63,1020.82 L882.90,1020.91 L885.17,1020.99 L887.44,1021.08 L889.70,1021.16 L891.97,1021.24 L894.24,1021.33 L896.50,1021.41 L898.77,1021.49 L901.04,1021.57 L903.31,1021.66 L905.57,1021.74 L907.84,1021.82 L910.11,1021.90 L912.37,1021.98 L914.64,1022.05 L916.91,1022.13 L919.18,1022.21 L921.44,1022.29 L923.71,1022.37 L925.98,1022.44 L928.24,1022.52 L930.51,1022.60 L932.78,1022.67 L935.05,1022.75 L937.31,1022.82 L939.58,1022.90 L941.85,1022.97 L944.11,1023.05 L946.38,1023.12 L948.65,1023.19 L950.92,1023.26 L953.18,1023.34 L955.45,1023.41 L957.72,1023.48 L959.98,1023.55 L962.25,1023.62 L964.52,1023.69 L966.79,1023.76 L969.05,1023.83 L971.32,1023.90 L973.59,1023.97 L975.86,1024.04 L978.12,1024.11 L980.39,1024.18 L982.66,1024.24 L984.92,1024.31 L987.19,1024.38 L989.46,1024.44 L991.73,1024.51 L993.99,1024.58 L996.26,1024.64 L998.53,1024.71 L1000.79,1024.77 L1003.06,1024.84 L1005.33,1024.90 L1007.60,1024.97 L1009.86,1025.03 L1012.13,1025.09 L1014.40,1025.16 L1016.66,1025.22 L1018.93,1025.28 L1021.20,1025.34 L1023.47,1025.41 L1025.73,1025.47 L1028.00,1025.53" stroke="#d678ff" stroke-width="3" fill="none" stroke-dasharray="2.7 2.2"/>
<path d="M123.40,659.15 L125.67,662.54 L127.93,666.00 L130.20,669.54 L132.47,673.14 L134.74,676.80 L137.00,680.51 L139.27,684.28 L141.54,688.08 L143.80,691.93 L146.07,695.80 L148.34,699.71 L150.61,703.64 L152.87,707.59 L155.14,711.55 L157.41,715.53 L159.67,719.51 L161.94,723.50 L164.21,727.49 L166.48,731.47 L168.74,735.45 L171.01,739.41 L173.28,743.37 L175.54,747.30 L177.81,751.22 L180.08,755.12 L182.35,759.00 L184.61,762.85 L186.88,766.67 L189.15,770.46 L191.42,774.22 L193.68,777.96 L195.95,781.65 L198.22,785.31 L200.48,788.94 L202.75,792.53 L205.02,796.08 L207.29,799.59 L209.55,803.06 L211.82,806.49 L214.09,809.88 L216.35,813.23 L218.62,816.54 L220.89,819.80 L223.16,823.02 L225.42,826.20 L227.69,829.34 L229.96,832.43 L232.22,835.48 L234.49,838.48 L236.76,841.45 L239.03,844.37 L241.29,847.25 L243.56,850.08 L245.83,852.88 L248.09,855.63 L250.36,858.34 L252.63,861.00 L254.90,863.63 L257.16,866.22 L259.43,868.77 L261.70,871.27 L263.96,873.74 L266.23,876.17 L268.50,878.56 L270.77,880.91 L273.03,883.22 L275.30,885.50 L277.57,887.74 L279.83,889.94 L282.10,892.11 L284.37,894.24 L286.64,896.34 L288.90,898.41 L291.17,900.44 L293.44,902.44 L295.70,904.40 L297.97,906.33 L300.24,908.23 L302.51,910.10 L304.77,911.94 L307.04,913.75 L309.31,915.53 L311.57,917.28 L313.84,919.00 L316.11,920.70 L318.38,922.36 L320.64,924.00 L322.91,925.62 L325.18,927.20 L327.45,928.76 L329.71,930.30 L331.98,931.81 L334.25,933.29 L336.51,934.75 L338.78,936.19 L341.05,937.60 L343.32,939.00 L345.58,940.36 L347.85,941.71 L350.12,943.04 L352.38,944.34 L354.65,945.63 L356.92,946.89 L359.19,948.13 L361.45,949.36 L363.72,950.56 L365.99,951.75 L368.25,952.91 L370.52,954.06 L372.79,955.19 L375.06,956.30 L377.32,957.40 L379.59,958.48 L381.86,959.54 L384.12,960.58 L386.39,961.61 L388.66,962.63 L390.93,963.62 L393.19,964.61 L395.46,965.57 L397.73,966.53 L399.99,967.47 L402.26,968.39 L404.53,969.30 L406.80,970.20 L409.06,971.08 L411.33,971.95 L413.60,972.81 L415.86,973.65 L418.13,974.49 L420.40,975.31 L422.67,976.11 L424.93,976.91 L427.20,977.69 L429.47,978.47 L431.73,979.23 L434.00,979.98 L436.27,980.72 L438.54,981.45 L440.80,982.17 L443.07,982.88 L445.34,983.58 L447.61,984.27 L449.87,984.95 L452.14,985.62 L454.41,986.28 L456.67,986.93 L458.94,987.57 L461.21,988.20 L463.48,988.83 L465.74,989.44 L468.01,990.05 L470.28,990.65 L472.54,991.24 L474.81,991.83 L477.08,992.40 L479.35,992.97 L481.61,993.53 L483.88,994.08 L486.15,994.63 L488.41,995.16 L490.68,995.69 L492.95,996.22 L495.22,996.73 L497.48,997.24 L499.75,997.75 L502.02,998.24 L504.28,998.73 L506.55,999.22 L508.82,999.70 L511.09,1000.17 L513.35,1000.63 L515.62,1001.09 L517.89,1001.55 L520.15,1001.99 L522.42,1002.44 L524.69,1002.87 L526.96,1003.31 L529.22,1003.73 L531.49,1004.15 L533.76,1004.57 L536.02,1004.98 L538.29,1005.38 L540.56,1005.78 L542.83,1006.18 L545.09,1006.57 L547.36,1006.95 L549.63,1007.34 L551.89,1007.71 L554.16,1008.08 L556.43,1008.45 L558.70,1008.82 L560.96,1009.17 L563.23,1009.53 L565.50,1009.88 L567.76,1010.23 L570.03,1010.57 L572.30,1010.91 L574.57,1011.24 L576.83,1011.57 L579.10,1011.90 L581.37,1012.22 L583.64,1012.54 L585.90,1012.85 L588.17,1013.17 L590.44,1013.47 L592.70,1013.78 L594.97,1014.08 L597.24,1014.38 L599.51,1014.67 L601.77,1014.96 L604.04,1015.25 L606.31,1015.54 L608.57,1015.82 L610.84,1016.10 L613.11,1016.37 L615.38,1016.64 L617.64,1016.91 L619.91,1017.18 L622.18,1017.44 L624.44,1017.70 L626.71,1017.96 L628.98,1018.22 L631.25,1018.47 L633.51,1018.72 L635.78,1018.97 L638.05,1019.21 L640.31,1019.45 L642.58,1019.69 L644.85,1019.93 L647.12,1020.16 L649.38,1020.39 L651.65,1020.62 L653.92,1020.85 L656.18,1021.07 L658.45,1021.30 L660.72,1021.52 L662.99,1021.73 L665.25,1021.95 L667.52,1022.16 L669.79,1022.37 L672.05,1022.58 L674.32,1022.79 L676.59,1022.99 L678.86,1023.20 L681.12,1023.40 L683.39,1023.60 L685.66,1023.79 L687.92,1023.99 L690.19,1024.18 L692.46,1024.37 L694.73,1024.56 L696.99,1024.75 L699.26,1024.93 L701.53,1025.12 L703.79,1025.30 L706.06,1025.48 L708.33,1025.66 L710.60,1025.83 L712.86,1026.01 L715.13,1026.18 L717.40,1026.35 L719.67,1026.52 L721.93,1026.69 L724.20,1026.86 L726.47,1027.02 L728.73,1027.18 L731.00,1027.35 L733.27,1027.51 L735.54,1027.67 L737.80,1027.82 L740.07,1027.98 L742.34,1028.13 L744.60,1028.29 L746.87,1028.44 L749.14,1028.59 L751.41,1028.74 L753.67,1028.88 L755.94,1029.03 L758.21,1029.18 L760.47,1029.32 L762.74,1029.46 L765.01,1029.60 L767.28,1029.74 L769.54,1029.88 L771.81,1030.02 L774.08,1030.15 L776.34,1030.29 L778.61,1030.42 L780.88,1030.56 L783.15,1030.69 L785.41,1030.82 L787.68,1030.95 L789.95,1031.07 L792.21,1031.20 L794.48,1031.33 L796.75,1031.45 L799.02,1031.57 L801.28,1031.70 L803.55,1031.82 L805.82,1031.94 L808.08,1032.06 L810.35,1032.18 L812.62,1032.29 L814.89,1032.41 L817.15,1032.52 L819.42,1032.64 L821.69,1032.75 L823.95,1032.86 L826.22,1032.98 L828.49,1033.09 L830.76,1033.20 L833.02,1033.30 L835.29,1033.41 L837.56,1033.52 L839.83,1033.63 L842.09,1033.73 L844.36,1033.83 L846.63,1033.94 L848.89,1034.04 L851.16,1034.14 L853.43,1034.24 L855.70,1034.34 L857.96,1034.44 L860.23,1034.54 L862.50,1034.64 L864.76,1034.74 L867.03,1034.83 L869.30,1034.93 L871.57,1035.02 L873.83,1035.12 L876.10,1035.21 L878.37,1035.30 L880.63,1035.39 L882.90,1035.49 L885.17,1035.58 L887.44,1035.67 L889.70,1035.75 L891.97,1035.84 L894.24,1035.93 L896.50,1036.02 L898.77,1036.10 L901.04,1036.19 L903.31,1036.27 L905.57,1036.36 L907.84,1036.44 L910.11,1036.52 L912.37,1036.61 L914.64,1036.69 L916.91,1036.77 L919.18,1036.85 L921.44,1036.93 L923.71,1037.01 L925.98,1037.09 L928.24,1037.17 L930.51,1037.24 L932.78,1037.32 L935.05,1037.40 L937.31,1037.47 L939.58,1037.55 L941.85,1037.62 L944.11,1037.70 L946.38,1037.77 L948.65,1037.84 L950.92,1037.91 L953.18,1037.99 L955.45,1038.06 L957.72,1038.13 L959.98,1038.20 L962.25,1038.27 L964.52,1038.34 L966.79,1038.41 L969.05,1038.48 L971.32,1038.54 L973.59,1038.61 L975.86,1038.68 L978.12,1038.75 L980.39,1038.81 L982.66,1038.88 L984.92,1038.94 L987.19,1039.01 L989.46,1039.07 L991.73,1039.13 L993.99,1039.20 L996.26,1039.26 L998.53,1039.32 L1000.79,1039.39 L1003.06,1039.45 L1005.33,1039.51 L1007.60,1039.57 L1009.86,1039.63 L1012.13,1039.69 L1014.40,1039.75 L1016.66,1039.81 L1018.93,1039.87 L1021.20,1039.92 L1023.47,1039.98 L1025.73,1040.04 L1028.00,1040.10" stroke="#d678ff" stroke-width="2.8" fill="none"/>
<path d="M118.20,650.20H128.60M123.40,650.20V704.50M118.20,704.50H128.60" stroke="#b000ff" stroke-width="1.7" fill="none"/>
<circle cx="123.40" cy="677.50" r="7.6" fill="#b000ff"/>
<path d="M173.40,750.20H183.80M178.60,750.20V797.40M173.40,797.40H183.80" stroke="#b000ff" stroke-width="1.7" fill="none"/>
<circle cx="178.60" cy="774.10" r="7.6" fill="#b000ff"/>
<path d="M228.60,821.00H239.00M233.80,821.00V861.80M228.60,861.80H239.00" stroke="#b000ff" stroke-width="1.7" fill="none"/>
<circle cx="233.80" cy="842.00" r="7.6" fill="#b000ff"/>
<path d="M339.00,901.00H349.40M344.20,901.00V934.30M339.00,934.30H349.40" stroke="#b000ff" stroke-width="1.7" fill="none"/>
<circle cx="344.20" cy="917.70" r="7.6" fill="#b000ff"/>
<path d="M449.40,946.70H459.80M454.60,946.70V973.70M449.40,973.70H459.80" stroke="#b000ff" stroke-width="1.7" fill="none"/>
<circle cx="454.60" cy="960.40" r="7.6" fill="#b000ff"/>
<path d="M559.80,997.70H570.20M565.00,997.70V1016.90M559.80,1016.90H570.20" stroke="#b000ff" stroke-width="1.7" fill="none"/>
<circle cx="565.00" cy="1007.90" r="7.6" fill="#b000ff"/>
<path d="M670.20,1007.00H680.61M675.40,1007.00V1024.60M670.20,1024.60H680.61" stroke="#b000ff" stroke-width="1.7" fill="none"/>
<circle cx="675.40" cy="1015.50" r="7.6" fill="#b000ff"/>
<path d="M780.61,1021.80H791.01M785.81,1021.80V1036.30M780.61,1036.30H791.01" stroke="#b000ff" stroke-width="1.7" fill="none"/>
<circle cx="785.81" cy="1028.90" r="7.6" fill="#b000ff"/>
<path d="M891.01,1028.00H901.41M896.21,1028.00V1038.00M891.01,1038.00H901.41" stroke="#b000ff" stroke-width="1.7" fill="none"/>
<circle cx="896.21" cy="1033.10" r="7.6" fill="#b000ff"/>
<path d="M1001.41,1037.00H1011.81M1006.61,1037.00V1044.00M1001.41,1044.00H1011.81" stroke="#b000ff" stroke-width="1.7" fill="none"/>
<circle cx="1006.61" cy="1040.70" r="7.6" fill="#b000ff"/>
<path d="M831.30,819.50H841.70M836.50,819.50V849.20M831.30,849.20H841.70" stroke="#b000ff" stroke-width="1.7" fill="none"/>
<circle cx="836.50" cy="834.30" r="5.6" fill="#b000ff"/>
<text x="858" y="839.6" font-size="18.7" font-family="Liberation Sans, sans-serif">K<tspan dy="5" font-size="13">2</tspan><tspan dy="-5">Rb</tspan><tspan dy="5" font-size="13">2</tspan><tspan dy="-13" dx="-1" font-size="12.5">+</tspan><tspan dy="8" dx="-2"> counts</tspan></text>
<path d="M287,771.7V735.5H315.3V690.7H430V735.5H544.4V690.7H659V735.5H688V771.7Z" fill="#ffcccc"/>
<path d="M287,713.6H687.5" stroke="#1a74c8" stroke-width="1.6" stroke-dasharray="6.6 4.55"/>
<path d="M287,771.7H315.3V654.5H430V771.7H544.4V654.5H659V771.7H688" stroke="#000" stroke-width="1.5" fill="none" stroke-dasharray="6 4"/>
<path d="M287,735.5H315.3V690.7H430V735.5H544.4V690.7H659V735.5H688" stroke="#ff0000" stroke-width="1.6" fill="none"/>
<path d="M534.1,645.7V771.7" stroke="#7030a0" stroke-width="3.5"/>
<text x="533.7" y="640" text-anchor="middle" font-size="18.4" font-family="Liberation Sans, sans-serif">UV</text>
<path d="M512.5,664.8H525" stroke="#000" stroke-width="1.7"/><path d="M532.30,664.80L521.80,659.20L525.30,664.80L521.80,670.40Z" fill="#000"/>
<path d="M565,664.8H553" stroke="#000" stroke-width="1.7"/><path d="M545.60,664.80L556.10,659.20L552.60,664.80L556.10,670.40Z" fill="#000"/>
<text x="569.5" y="672" font-size="18.4" font-family="Liberation Sans, sans-serif">2 µs</text>
<path d="M285,691.3000000000001H299" stroke="#ff0000" stroke-width="1.6"/><path d="M306.20,691.30L297.20,686.70L300.20,691.30L297.20,695.90Z" fill="#ff0000"/>
<path d="M268,699.5L270.9,686M268.3,741.7L271.2,728.1" stroke="#000" stroke-width="2.3"/>
<path d="M273.6,688.2L276,681.8" stroke="#000" stroke-width="1.7" stroke-linecap="butt"/>
<text x="373.5" y="760.6" text-anchor="middle" font-size="18.4" font-family="Liberation Sans, sans-serif"><tspan font-style="italic">I′</tspan> phase</text>
<text x="484.4" y="760.6" text-anchor="middle" font-size="18.4" font-family="Liberation Sans, sans-serif"><tspan font-style="italic">I</tspan><tspan dx="-1.5"> phase</tspan></text>
<text x="602" y="760.6" text-anchor="middle" font-size="18.4" font-family="Liberation Sans, sans-serif"><tspan font-style="italic">I′</tspan> phase</text>
<path d="M430.6,777.5V818M544.4,777.5V797M659,777.5V818" stroke="#a6a6a6" stroke-width="1.3"/>
<path d="M438,790.0H457.4M536.4,790.0H519.2" stroke="#a6a6a6" stroke-width="1.7"/>
<path d="M431.20,790.00L442.00,784.20L438.40,790.00L442.00,795.80Z" fill="#a6a6a6"/><path d="M543.60,790.00L532.80,784.20L536.40,790.00L532.80,795.80Z" fill="#a6a6a6"/>
<path d="M438,810.5999999999999H512.4M651,810.5999999999999H577" stroke="#a6a6a6" stroke-width="1.7"/>
<path d="M431.20,810.60L442.00,804.80L438.40,810.60L442.00,816.40Z" fill="#a6a6a6"/><path d="M658.20,810.60L647.40,804.80L651.00,810.60L647.40,816.40Z" fill="#a6a6a6"/>
<text x="487" y="796" text-anchor="middle" font-size="18.4" font-family="Liberation Sans, sans-serif">71 µs</text>
<text x="545" y="816.5" text-anchor="middle" font-size="18.4" font-family="Liberation Sans, sans-serif">143 µs</text>
<text x="702.5" y="663.4" font-size="18.4" font-family="Liberation Sans, sans-serif">22.6 kW cm<tspan dy="-7.5" font-size="13.5">−2</tspan></text>
<text x="702.5" y="720.1" font-size="18.4" font-family="Liberation Sans, sans-serif">11.3 kW cm<tspan dy="-7.5" font-size="13.5">−2</tspan></text>
<text x="702.5" y="777.1" font-size="18.4" font-family="Liberation Sans, sans-serif">0 kW cm<tspan dy="-7.5" font-size="13.5">−2</tspan></text>
</svg>
</body></html>
